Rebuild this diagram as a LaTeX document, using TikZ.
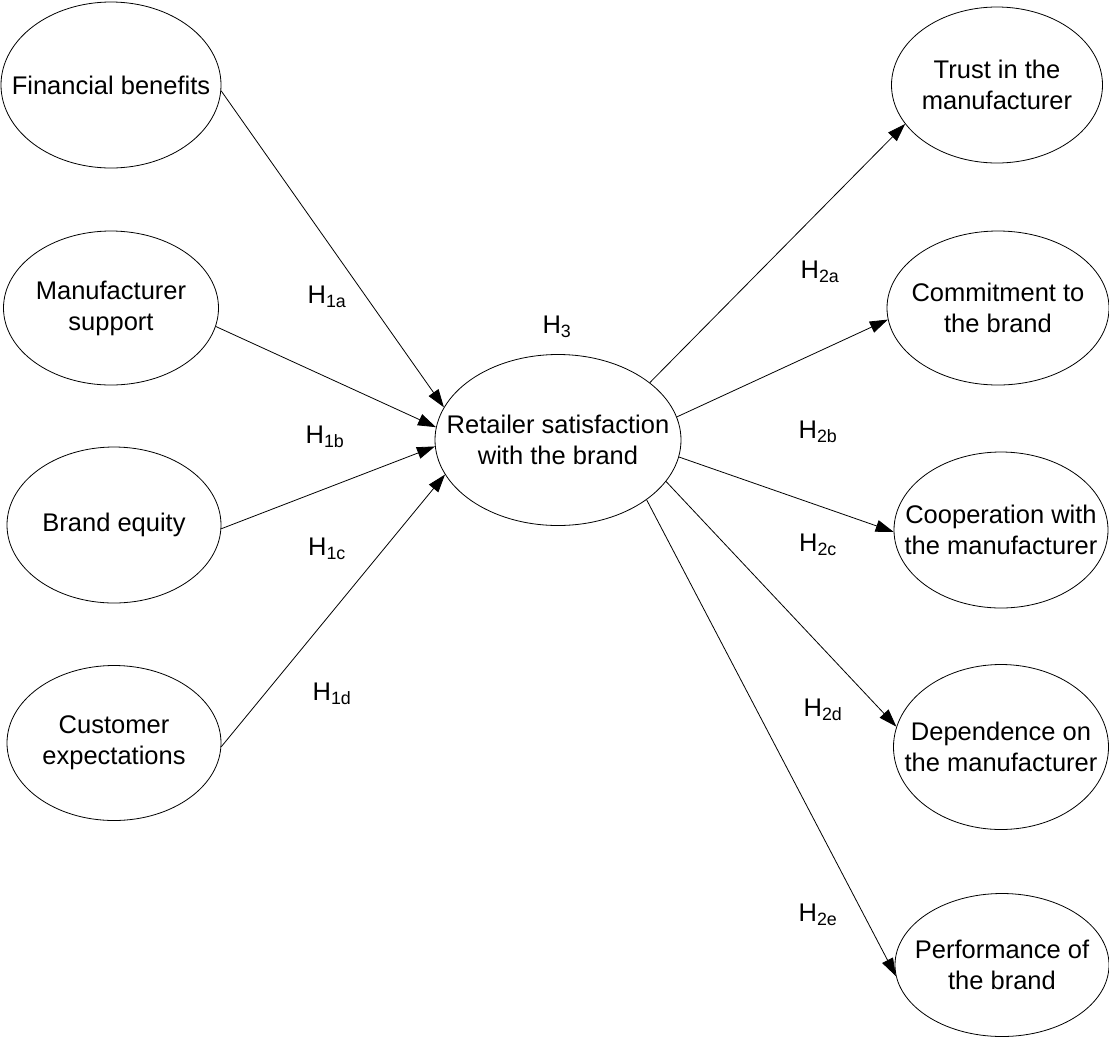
\documentclass[tikz,border=0pt]{standalone}
\usepackage{fontspec}
\setmainfont{Liberation Sans}
\usetikzlibrary{shapes.geometric,arrows.meta}
\begin{document}
\begin{tikzpicture}[x=1pt,y=-1pt,
  ell/.style={ellipse,draw,line width=0.8pt,inner xsep=-45pt,inner ysep=-30pt,align=center,font=\fontsize{25.5}{31}\selectfont},
  lab/.style={font=\fontsize{25.5}{31}\selectfont,inner sep=0pt},
  conn/.style={line width=0.8pt,-{Triangle[length=18pt,width=12pt]}}]
\useasboundingbox (0,0) rectangle (1109,1037);
% left
\node[ell,minimum width=220pt,minimum height=166pt] (fin) at (111,85) {Financial benefits};
\node[ell,minimum width=215pt,minimum height=154pt] (man) at (111,308) {Manufacturer\\support};
\node[ell,minimum width=214pt,minimum height=156pt] (beq) at (114,525) {Brand equity};
\node[ell,minimum width=214pt,minimum height=155pt] (cus) at (114,743) {Customer\\expectations};
% centre
\node[ell,minimum width=246pt,minimum height=171pt] (ret) at (558,440) {Retailer satisfaction\\with the brand};
% right
\node[ell,minimum width=211pt,minimum height=156pt] (tru) at (997,85) {Trust in the\\manufacturer};
\node[ell,minimum width=222pt,minimum height=154pt] (com) at (998,308) {Commitment to\\the brand};
\node[ell,minimum width=214pt,minimum height=156pt] (coo) at (1001,530) {Cooperation with\\the manufacturer};
\node[ell,minimum width=215pt,minimum height=165pt] (dep) at (1001,747) {Dependence on\\the manufacturer};
\node[ell,minimum width=214pt,minimum height=143pt] (per) at (1002,965) {Performance of\\the brand};
% connectors
\draw[conn] (fin.-3) -- (ret.164.4);
\draw[conn] (man.-10.7) -- (ret.174.4);
\draw[conn] (beq.-2) -- (ret.183.3);
\draw[conn] (cus.-2) -- (ret.197.4);
\draw[conn] (ret.32.2) -- (tru.203);
\draw[conn] (ret.11.6) -- (com.186.2);
\draw[conn] (ret.-8.5) -- (coo.181);
\draw[conn] (ret.-21.9) -- (dep.169.1);
\draw[conn] (ret.-34.3) -- (per.186.4);
% labels
\node[lab] (h1a) at (327,297) {H\textsubscript{1a}};
\node[lab] (h1b) at (325,437) {H\textsubscript{1b}};
\node[lab] (h1c) at (327,549) {H\textsubscript{1c}};
\node[lab] (h1d) at (332,694) {H\textsubscript{1d}};
\node[lab] (h3) at (557,327) {H\textsubscript{3}};
\node[lab] (h2a) at (820,272) {H\textsubscript{2a}};
\node[lab] (h2b) at (818,432) {H\textsubscript{2b}};
\node[lab] (h2c) at (818,545) {H\textsubscript{2c}};
\node[lab] (h2d) at (823,710) {H\textsubscript{2d}};
\node[lab] (h2e) at (818,915) {H\textsubscript{2e}};
\end{tikzpicture}
\end{document}
